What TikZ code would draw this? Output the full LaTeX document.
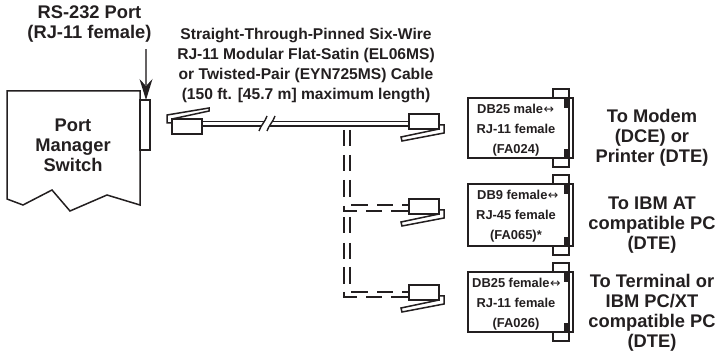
\documentclass[tikz,border=0pt]{standalone}
\usepackage{fontspec}
\setmainfont{Liberation Sans}[BoldFont={Liberation Sans Bold}]
\newfontfamily\symfont{DejaVu Sans}
\usetikzlibrary{arrows.meta}
\definecolor{ink}{HTML}{231F20}
\tikzset{
 outl/.style={draw=ink,line width=1.5pt,line join=miter,fill=white},
 lab/.style={font=\bfseries\fontsize{18.3}{20}\selectfont,text=ink,align=center,inner sep=0pt},
 cab/.style={font=\bfseries\fontsize{15.6}{20.3}\selectfont,text=ink,align=center,inner sep=0pt},
 ad/.style={font=\bfseries\fontsize{12.9}{13}\selectfont,text=ink,inner sep=0pt},
 wire/.style={draw=ink,line width=1.4pt},
 bar/.style={fill=ink}
}
\newcommand{\plugR}[1]{%
 \begin{scope}[yshift=-#1pt]
 \draw[outl] (439,125)--(444,125)--(444,133)--(402,141)--(401,137)--(439,129)--cycle;
 \draw[outl] (409,114) rectangle (439,129);
 \end{scope}}
\newcommand{\arrowlr}{\kern0.5pt{\symfont\mdseries\fontsize{12.5}{12.5}\selectfont ↔}}
\newcommand{\adapter}[6]{%
 \draw[outl] (553,#1-9) rectangle (569,#2+9);
 \draw[outl] (468,#1) rectangle (573,#2);
 \draw[draw=ink,line width=1.2pt] (569,#1) -- (569,#2);
 \fill[bar] (564,#1) rectangle (569.5,#1+10);
 \fill[bar] (564,#2-9) rectangle (569.5,#2);
 \node[ad,anchor=west] at (#3,#1+11) {#4\arrowlr};
 \node[ad] at (516,#1+31) {#5};
 \node[ad] at (516,#1+52) {#6};
}
\newcommand{\vsegs}[3]{%
 \draw[wire] (344,#1)--(344,#1+16) (350,#1)--(350,#1+16);
 \draw[wire] (344,#2)--(344,#2+16) (350,#2)--(350,#2+16);
 \draw[wire] (344,#3)--(344,#3+17) (350,#3)--(350,#3+17);
}
\newcommand{\hsegs}[2]{%
 \draw[wire] (351,#1)--(368,#1) (377,#1)--(393,#1) (402,#1)--(409,#1);
 \draw[wire] (344,#2-5)--(344,#2)--(357,#2) (366,#2)--(382,#2) (391,#2)--(409,#2);
}
\begin{document}
\begin{tikzpicture}[x=1pt,y=-1pt]
\useasboundingbox (0,0) rectangle (721,355);
\node[lab] at (89.5,24) {RS-232 Port\\(RJ-11 female)};
\node[cab] (cabtxt) at (306,65.5) {Straight-Through-Pinned Six-Wire\\RJ-11 Modular Flat-Satin (EL06MS)\\or Twisted-Pair (EYN725MS) Cable\\(150 ft. [45.7 m] maximum length)};
\draw[outl] (7,91)--(140,91)--(140,205)--(107,195)--(70,211)--(52,190)--(23,205)--(7,199)--cycle;
\node[lab] at (73,145) {Port\\Manager\\Switch};
\node[outl,minimum width=10pt,minimum height=50pt,inner sep=0pt] (port) at (145,125) {};
\coordinate (arrS) at (146,49);
\draw[draw=ink!70,line width=1.2pt] (arrS) -- (146,85);
\fill[ink] (146,100)--(139.5,79)--(146,86)--(152.5,79)--cycle;
% left plug
\draw[outl] (172,123)--(167,123)--(167,115)--(209,108)--(209,111)--(172,119)--cycle;
\draw[outl] (172,119) rectangle (202,134);
% cable
\draw[wire] (202,121.5)--(265,121.5) (202,126)--(262,126);
\draw[wire] (272,121.5)--(409,121.5) (270,126)--(409,126);
\draw[wire] (267,116) .. controls (265,122) and (261,125) .. (259,131);
\draw[wire] (275,116) .. controls (273,122) and (269,125) .. (267,131);
\plugR{0}
% dashed
\vsegs{130}{155}{180}
\vsegs{217}{243}{267}
\hsegs{205}{211}
\hsegs{292}{297}
\plugR{85}
\plugR{171}
\adapter{98}{158}{477}{DB25 male}{RJ-11 female}{(FA024)}
\adapter{184}{246}{477}{DB9 female}{RJ-45 female}{(FA065)*}
\adapter{272}{332}{472}{DB25 female}{RJ-11 female}{(FA026)}
\node[lab] at (652,138) {To Modem\\(DCE) or\\Printer (DTE)};
\node[lab] at (652,225) {To IBM AT\\compatible PC\\(DTE)};
\node[lab] at (652,313) {To Terminal or\\IBM PC/XT\\compatible PC\\(DTE)};
\end{tikzpicture}
\end{document}
